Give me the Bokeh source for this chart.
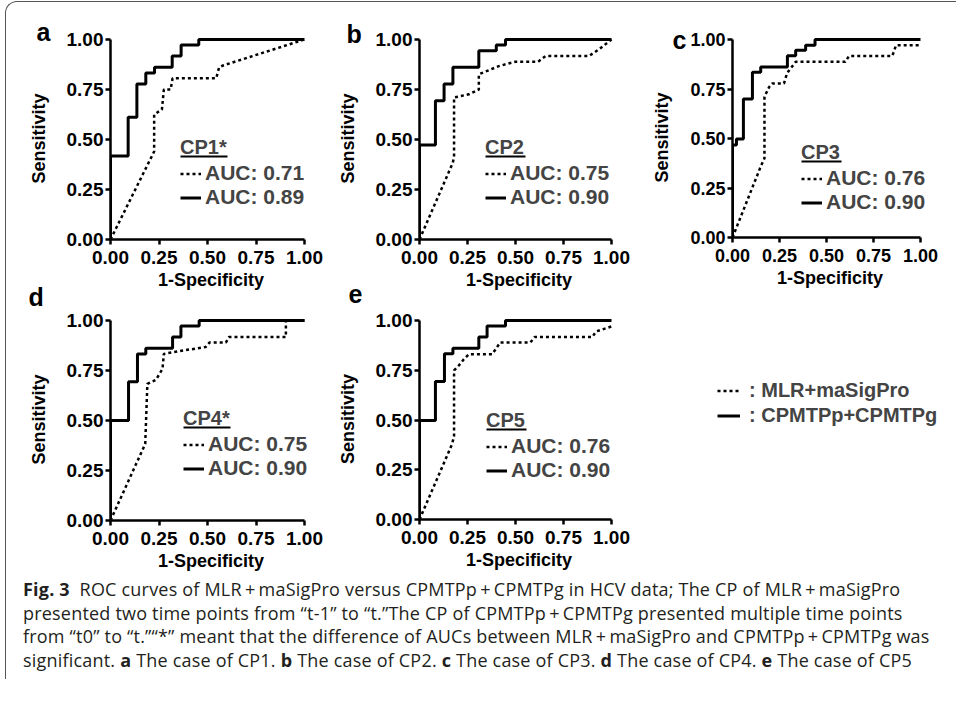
from bokeh.plotting import figure
from bokeh.models import Range1d, Legend, LegendItem, Div, FixedTicker, NumeralTickFormatter
from bokeh.layouts import row, column
from bokeh.embed import file_html
from bokeh.resources import INLINE

FONT = "Liberation Sans"

# ---------------- data ----------------
TICKS = [0.0, 0.25, 0.50, 0.75, 1.00]
X_LABEL = "1-Specificity"
Y_LABEL = "Sensitivity"
SERIES = ["MLR+maSigPro", "CPMTPp+CPMTPg"]

PANEL_LETTERS = ["a", "b", "c", "d", "e"]
PANEL_TITLES = ["CP1*", "CP2", "CP3", "CP4*", "CP5"]
AUC_MLR = ["0.71", "0.75", "0.76", "0.75", "0.76"]
AUC_CPM = ["0.89", "0.90", "0.90", "0.90", "0.90"]

# panel a
A_MLR_X = [0, 0.225, 0.225, 0.265, 0.275, 0.31, 0.32, 0.545, 0.56, 0.58, 1.0]
A_MLR_Y = [0, 0.44, 0.625, 0.65, 0.75, 0.75, 0.806, 0.806, 0.861, 0.87, 1.0]
A_CPM_X = [0, 0, 0.091, 0.091, 0.136, 0.136, 0.182, 0.182, 0.227, 0.227, 0.318, 0.318, 0.364, 0.364, 0.455, 0.455, 1.0]
A_CPM_Y = [0, 0.417, 0.417, 0.611, 0.611, 0.778, 0.778, 0.833, 0.833, 0.861, 0.861, 0.917, 0.917, 0.972, 0.972, 1.0, 1.0]

# panel b
B_MLR_X = [0, 0.174, 0.18, 0.18, 0.257, 0.309, 0.309, 0.413, 0.5, 0.618, 0.656, 0.882, 0.934, 1.0]
B_MLR_Y = [0, 0.385, 0.42, 0.71, 0.726, 0.75, 0.826, 0.867, 0.889, 0.889, 0.917, 0.917, 0.95, 1.0]
B_CPM_X = [0, 0, 0.083, 0.083, 0.128, 0.128, 0.174, 0.174, 0.309, 0.309, 0.40, 0.40, 0.448, 0.448, 1.0]
B_CPM_Y = [0, 0.472, 0.472, 0.694, 0.694, 0.778, 0.778, 0.861, 0.861, 0.944, 0.944, 0.972, 0.972, 1.0, 1.0]

# panel c
C_MLR_X = [0, 0.15, 0.17, 0.17, 0.195, 0.212, 0.274, 0.29, 0.336, 0.60, 0.62, 0.85, 0.87, 1.0]
C_MLR_Y = [0, 0.358, 0.40, 0.711, 0.76, 0.778, 0.778, 0.83, 0.887, 0.887, 0.917, 0.917, 0.971, 0.971]
C_CPM_X = [0, 0, 0.021, 0.021, 0.058, 0.058, 0.106, 0.106, 0.15, 0.15, 0.292, 0.292, 0.336, 0.336, 0.389, 0.389, 0.439, 0.439, 1.0]
C_CPM_Y = [0, 0.467, 0.467, 0.497, 0.497, 0.70, 0.70, 0.834, 0.834, 0.861, 0.861, 0.918, 0.918, 0.946, 0.946, 0.971, 0.971, 1.0, 1.0]

# panel d
D_MLR_X = [0, 0.179, 0.19, 0.234, 0.268, 0.275, 0.354, 0.49, 0.51, 0.595, 0.61, 0.904, 0.904, 1.0]
D_MLR_Y = [0, 0.383, 0.683, 0.703, 0.758, 0.833, 0.847, 0.867, 0.89, 0.89, 0.917, 0.917, 1.0, 1.0]
D_CPM_X = [0, 0, 0.093, 0.093, 0.139, 0.139, 0.182, 0.182, 0.32, 0.32, 0.363, 0.363, 0.457, 0.457, 1.0]
D_CPM_Y = [0, 0.5, 0.5, 0.694, 0.694, 0.833, 0.833, 0.861, 0.861, 0.917, 0.917, 0.972, 0.972, 1.0, 1.0]

# panel e
E_MLR_X = [0, 0.17, 0.18, 0.18, 0.205, 0.23, 0.257, 0.378, 0.40, 0.42, 0.578, 0.60, 0.90, 0.92, 1.0]
E_MLR_Y = [0, 0.38, 0.42, 0.749, 0.774, 0.804, 0.83, 0.83, 0.86, 0.89, 0.89, 0.917, 0.917, 0.945, 0.97]
E_CPM_X = [0, 0, 0.083, 0.083, 0.13, 0.13, 0.174, 0.174, 0.309, 0.309, 0.352, 0.352, 0.448, 0.448, 1.0]
E_CPM_Y = [0, 0.497, 0.497, 0.694, 0.694, 0.833, 0.833, 0.861, 0.861, 0.917, 0.917, 0.972, 0.972, 1.0, 1.0]

CURVES = {
    "a": (A_MLR_X, A_MLR_Y, A_CPM_X, A_CPM_Y),
    "b": (B_MLR_X, B_MLR_Y, B_CPM_X, B_CPM_Y),
    "c": (C_MLR_X, C_MLR_Y, C_CPM_X, C_CPM_Y),
    "d": (D_MLR_X, D_MLR_Y, D_CPM_X, D_CPM_Y),
    "e": (E_MLR_X, E_MLR_Y, E_CPM_X, E_CPM_Y),
}

# ---------------- layout (pixels) ----------------
# l: left border, ux/uy: pixels per unit, w: figure width, t/b: top/bottom borders
ROW2_SHIFT = -44
XEXT = 1.035
YEXT = 1.012
LAYOUT = {
    "a": dict(l=104, ux=194, w=326, t=34, uy=200, b=57, toff=-74, tstand=-17, leg=(70, 30), tw=47, tick="19px"),
    "b": dict(l=87, ux=192, w=315, t=35, uy=200, b=56, toff=-73, tstand=-21, leg=(66, 30), tw=40, tick="19px"),
    "c": dict(l=85, ux=188, w=293, t=29, uy=198, b=64, toff=-60, tstand=-33, leg=(69, 23), tw=40, tick="18px"),
    "d": dict(l=104, ux=194, w=326, t=66, uy=200, b=58, toff=-82, tstand=15, leg=(73, 40), tw=47, tick="19px"),
    "e": dict(l=87, ux=192, w=315, t=67, uy=199, b=58, toff=-71, tstand=31, leg=(67, 37), tw=40, tick="19px"),
}

DOT = dict(line_color="black", line_width=2.5, line_dash="3 3")
SOLID = dict(line_color="black", line_width=3)


def style_axis(ax, tick_size):
    ax.ticker = FixedTicker(ticks=TICKS)
    ax.formatter = NumeralTickFormatter(format="0.00")
    ax.bounds = (TICKS[0], TICKS[-1])
    ax.axis_line_width = 2.5
    ax.axis_line_color = "black"
    ax.major_tick_line_width = 2.5
    ax.major_tick_line_color = "black"
    ax.major_tick_out = 5
    ax.major_tick_in = 0
    ax.minor_tick_out = 0
    ax.minor_tick_in = 0
    ax.major_label_text_font = FONT
    ax.major_label_text_font_size = tick_size
    ax.major_label_text_font_style = "bold"
    ax.major_label_text_color = "black"
    ax.axis_label_text_font = FONT
    ax.axis_label_text_font_size = "18px"
    ax.axis_label_text_font_style = "bold"
    ax.axis_label_text_color = "black"


def make_panel(i, key):
    L = LAYOUT[key]
    fw = round(L["ux"] * XEXT)
    fh = round(L["uy"] * YEXT)
    xr = fw / L["ux"]
    yr = fh / L["uy"]
    p = figure(frame_width=fw, frame_height=fh,
               min_border_left=L["l"], min_border_right=L["w"] - L["l"] - fw,
               min_border_top=L["t"], min_border_bottom=L["b"],
               x_range=Range1d(0, xr), y_range=Range1d(0, yr),
               output_backend="svg", toolbar_location=None,
               x_axis_label=X_LABEL, y_axis_label=Y_LABEL)
    p.grid.visible = False
    p.outline_line_color = None
    p.background_fill_color = None
    p.border_fill_color = None
    for ax in (p.xaxis[0], p.yaxis[0]):
        style_axis(ax, L["tick"])
    p.xaxis.major_label_standoff = 6
    p.xaxis.axis_label_standoff = 3
    p.yaxis.major_label_standoff = 2
    p.yaxis.axis_label_standoff = 15

    # panel letter as the figure title
    p.title.text = PANEL_LETTERS[i]
    p.title.align = "left"
    p.title.vertical_align = "bottom"
    p.title.offset = L["toff"]
    p.title.standoff = L["tstand"]
    p.title.text_font = FONT
    p.title.text_font_size = "25px"
    p.title.text_font_style = "bold"
    p.title.text_color = "black"

    mx, my, cx, cy = CURVES[key]
    r_mlr = p.line(mx, my, **DOT)
    r_cpm = p.line(cx, cy, **SOLID)

    ppx = L["ux"]
    ppy = L["uy"]
    vx, vy = L["leg"]
    leg = Legend(items=[LegendItem(label="AUC: " + AUC_MLR[i], renderers=[r_mlr]),
                        LegendItem(label="AUC: " + AUC_CPM[i], renderers=[r_cpm])],
                 title=PANEL_TITLES[i], location=(vx, vy),
                 border_line_color=None, background_fill_alpha=0,
                 padding=0, margin=0, spacing=0,
                 glyph_width=21, glyph_height=23, label_height=23, label_standoff=4,
                 label_text_font=FONT, label_text_font_size="21px", label_text_font_style="bold",
                 title_text_font=FONT, title_text_font_size="20px", title_text_font_style="bold",
                 title_standoff=2)
    p.add_layout(leg)
    # underline of the legend title
    uyy = (vy + 53) / ppy
    p.segment(x0=[vx / ppx], y0=[uyy], x1=[(vx + L["tw"]) / ppx], y1=[uyy],
              line_color="black", line_width=2)
    return p


panels = [make_panel(i, k) for i, k in enumerate(PANEL_LETTERS)]

# legend-only figure (keys of the two methods); its renderers hold panel e's
# curves but the ranges keep them out of view, only the legend keys show
fl = figure(frame_width=293, frame_height=326, min_border=0,
            x_range=Range1d(5, 6), y_range=Range1d(5, 6),
            output_backend="svg", toolbar_location=None)
fl.axis.visible = False
fl.grid.visible = False
fl.outline_line_color = None
fl.border_fill_color = None
fl.background_fill_color = None
g1 = fl.line(E_MLR_X, E_MLR_Y, **DOT)
g2 = fl.line(E_CPM_X, E_CPM_Y, **SOLID)
fl.add_layout(Legend(items=[LegendItem(label=": " + SERIES[0], renderers=[g1]),
                            LegendItem(label=": " + SERIES[1], renderers=[g2])],
                     location=(70, 150), border_line_color=None, background_fill_alpha=0,
                     padding=0, margin=0, spacing=2,
                     glyph_width=23, glyph_height=23, label_height=23, label_standoff=9,
                     label_text_font=FONT, label_text_font_size="20px",
                     label_text_font_style="bold"))

P = "\u2009+\u2009"
caption_html = (
    '<div style="font-family: \'Open Sans\', sans-serif; '
    'font-size: 18px; letter-spacing: 0.2px; line-height: 23.5px; color: #231f20; white-space: nowrap; '
    'margin-left: 12px; margin-top: -4px;">'
    '<b>Fig.&nbsp;3</b>&nbsp; ROC curves of MLR' + P + 'maSigPro versus CPMTPp' + P + 'CPMTPg in HCV data; '
    'The CP of MLR' + P + 'maSigPro<br>'
    'presented two time points from \u201ct-1\u201d to \u201ct.\u201dThe CP of CPMTPp' + P + 'CPMTPg '
    'presented multiple time points<br>'
    'from \u201ct0\u201d to \u201ct.\u201d\u201c*\u201d meant that the difference of AUCs between MLR'
    + P + 'maSigPro and CPMTPp' + P + 'CPMTPg was<br>'
    'significant. <b>a</b> The case of CP1. <b>b</b> The case of CP2. <b>c</b> The case of CP3. '
    '<b>d</b> The case of CP4. <b>e</b> The case of CP5'
    '</div>'
)
caption = Div(text=caption_html, width=940, height=92)

row1 = row(panels[0], panels[1], panels[2], spacing=0)
row2 = row(panels[3], panels[4], fl, spacing=0, margin=(ROW2_SHIFT, 0, 0, 0))

root = column(
    row1, row2, caption,
    spacing=0,
    styles={"margin-left": "5px", "margin-top": "1px",
            "border-left": "1px solid #555", "border-top": "1px solid #555",
            "border-top-left-radius": "12px"},
)

open("out.html", "w").write(file_html(root, INLINE))
